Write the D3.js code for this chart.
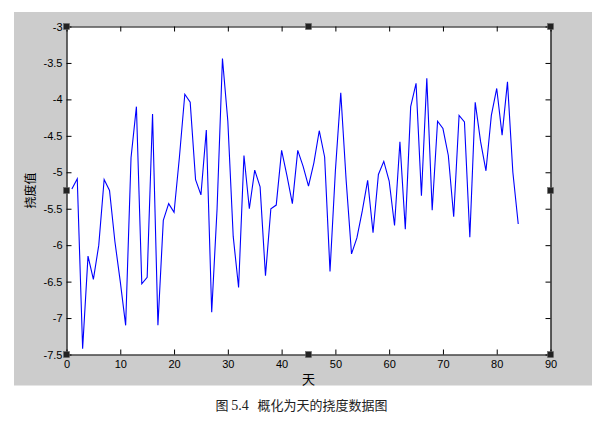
<!DOCTYPE html>
<html>
<head>
<meta charset="utf-8">
<script src="https://cdn.jsdelivr.net/npm/d3@7"></script>
<style>
  body { margin: 0; background: #fff; }
  text { font-family: "Liberation Sans", Arial, sans-serif; }
</style>
</head>
<body>
<div id="chart"></div>
<script>
/*
 * Data
 *****************************/
const DAYS = d3.range(1, 85);
const DEFLECTION = [
  -5.23, -5.09, -7.42, -6.15, -6.47, -6.0, -5.1, -5.25, -5.95, -6.5,
  -7.1, -4.8, -4.1, -6.53, -6.44, -4.2, -7.1, -5.66, -5.43, -5.55,
  -4.79, -3.93, -4.04, -5.1, -5.31, -4.42, -6.92, -5.5, -3.44, -4.3,
  -5.88, -6.58, -4.77, -5.5, -4.97, -5.2, -6.42, -5.5, -5.45, -4.7,
  -5.05, -5.43, -4.7, -4.92, -5.19, -4.87, -4.43, -4.79, -6.36, -4.98,
  -3.91, -5.11, -6.12, -5.9, -5.53, -5.11, -5.83, -5.03, -4.85, -5.12,
  -5.73, -4.58, -5.78, -4.1, -3.78, -5.32, -3.71, -5.52, -4.3, -4.4,
  -4.77, -5.61, -4.22, -4.31, -5.89, -4.04, -4.58, -4.98, -4.22, -3.85,
  -4.49, -3.76, -5.0, -5.71
];
const X_TICKS = [0, 10, 20, 30, 40, 50, 60, 70, 80, 90];
const Y_TICKS = [-3, -3.5, -4, -4.5, -5, -5.5, -6, -6.5, -7, -7.5];
const X_LABEL = "天";
const Y_LABEL = "挠度值";
// caption pieces: [text, font]
const CAPTION = [
  ["图\u00a0", "cjk"], ["5.4", "serif"], ["\u00a0\u00a0\u00a0概化为天的挠度数据图", "cjk"]
];

/*
 * Parameters
 *****************************/
const W = 603, H = 422;
const fig = { x: 14, y: 12, w: 578, h: 373.5 };
const box = { left: 66.5, right: 550.5, top: 26.5, bottom: 354.5 };
const tickLen = 5;
const FONTS = {
  cjk: "'Noto Sans CJK SC', sans-serif",
  serif: "'Liberation Serif', 'DejaVu Serif', serif"
};

const svg = d3.select("#chart").append("svg")
  .attr("width", W).attr("height", H);

// figure background (matlab grey)
svg.append("rect")
  .attr("x", fig.x).attr("y", fig.y)
  .attr("width", fig.w).attr("height", fig.h)
  .attr("fill", "#cccccc");

// axes area
svg.append("rect")
  .attr("x", box.left).attr("y", box.top)
  .attr("width", box.right - box.left).attr("height", box.bottom - box.top)
  .attr("fill", "#fff");

const xScale = d3.scaleLinear().domain([0, 90]).range([box.left, box.right]);
const yScale = d3.scaleLinear().domain([-7.5, -3]).range([box.bottom, box.top]);

// data line
const line = d3.line()
  .x((d, i) => xScale(DAYS[i]))
  .y(d => yScale(d));

svg.append("path")
  .datum(DEFLECTION)
  .attr("d", line)
  .attr("fill", "none")
  .attr("stroke", "#0000ff")
  .attr("stroke-width", 1.1);

// axes: ticks point inward, box on all 4 sides
const bottomAxis = d3.axisBottom(xScale).tickValues(X_TICKS)
  .tickSizeInner(-tickLen).tickSizeOuter(0).tickPadding(6);
const topAxis = d3.axisTop(xScale).tickValues(X_TICKS)
  .tickSizeInner(-tickLen).tickSizeOuter(0).tickFormat("");
const leftAxis = d3.axisLeft(yScale).tickValues(Y_TICKS)
  .tickSizeInner(-tickLen).tickSizeOuter(0).tickPadding(4)
  .tickFormat(d => String(d));
const rightAxis = d3.axisRight(yScale).tickValues(Y_TICKS)
  .tickSizeInner(-tickLen).tickSizeOuter(0).tickFormat("");

const gB = svg.append("g").attr("transform", `translate(0,${box.bottom})`).call(bottomAxis);
const gT = svg.append("g").attr("transform", `translate(0,${box.top})`).call(topAxis);
const gL = svg.append("g").attr("transform", `translate(${box.left},0)`).call(leftAxis);
const gR = svg.append("g").attr("transform", `translate(${box.right},0)`).call(rightAxis);

[gB, gT, gL, gR].forEach(g => {
  g.select(".domain").attr("stroke", "#000").attr("stroke-width", 1.2);
  g.selectAll(".tick line").attr("stroke", "#000");
  g.selectAll(".tick text")
    .attr("fill", "#000")
    .style("font-size", "11px")
    .style("font-family", "'Liberation Sans', Arial, sans-serif");
});

// selection handles (little black squares on the axes box)
const midX = (box.left + box.right) / 2, midY = (box.top + box.bottom) / 2;
const handles = [
  [box.left, box.top], [midX, box.top], [box.right, box.top],
  [box.left, midY], [box.right, midY],
  [box.left, box.bottom], [midX, box.bottom], [box.right, box.bottom]
];
svg.selectAll("rect.handle")
  .data(handles)
  .enter()
  .append("rect")
  .attr("class", "handle")
  .attr("x", d => d[0] - 3)
  .attr("y", d => d[1] - 3)
  .attr("width", 6).attr("height", 6)
  .attr("fill", "#222")
  .attr("stroke", "#666")
  .attr("stroke-width", 0.5);

// axis titles
svg.append("text")
  .attr("x", midX).attr("y", 384)
  .attr("text-anchor", "middle")
  .style("font-family", FONTS.cjk)
  .style("font-size", "13px")
  .text(X_LABEL);

svg.append("text")
  .attr("transform", `translate(35,${midY}) rotate(-90)`)
  .attr("text-anchor", "middle")
  .style("font-family", FONTS.cjk)
  .style("font-size", "12px")
  .text(Y_LABEL);

// caption under the figure
const cap = svg.append("text")
  .attr("x", 301.5).attr("y", 410)
  .attr("text-anchor", "middle")
  .attr("fill", "#222")
  .style("font-size", "13px");

cap.selectAll("tspan")
  .data(CAPTION)
  .enter()
  .append("tspan")
  .style("font-family", d => FONTS[d[1]])
  .style("font-size", d => d[1] === "serif" ? "14px" : "13px")
  .text(d => d[0]);
</script>
</body>
</html>
